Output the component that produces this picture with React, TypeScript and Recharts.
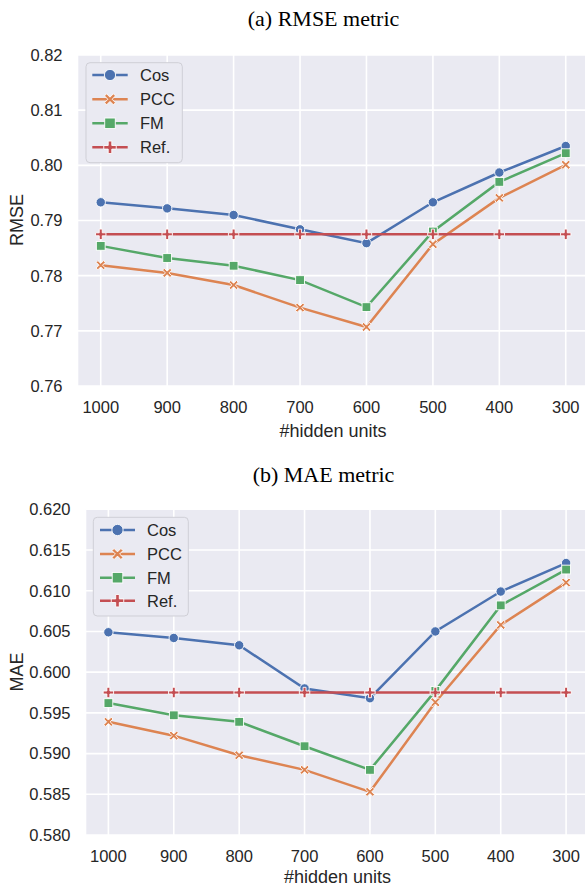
import React from 'react';
import { LineChart, Line, XAxis, YAxis, CartesianGrid } from 'recharts';

// ---- data ----
const categories = ['1000', '900', '800', '700', '600', '500', '400', '300'];
const seriesNames = ['Cos', 'PCC', 'FM', 'Ref.'];

const rmseCos = [0.7933, 0.7922, 0.7910, 0.7884, 0.7859, 0.7933, 0.7987, 0.8035];
const rmsePCC = [0.7819, 0.7805, 0.7783, 0.7742, 0.7707, 0.7857, 0.7941, 0.8001];
const rmseFM = [0.7854, 0.7832, 0.7818, 0.7792, 0.7743, 0.7880, 0.7970, 0.8022];
const rmseRef = [0.7875, 0.7875, 0.7875, 0.7875, 0.7875, 0.7875, 0.7875, 0.7875];
const rmseTicks = [0.76, 0.77, 0.78, 0.79, 0.80, 0.81, 0.82];

const maeCos = [0.6049, 0.6042, 0.6033, 0.5980, 0.5968, 0.6050, 0.6099, 0.6134];
const maePCC = [0.5939, 0.5922, 0.5898, 0.5880, 0.5853, 0.5963, 0.6058, 0.6110];
const maeFM = [0.5962, 0.5947, 0.5939, 0.5909, 0.5880, 0.5977, 0.6082, 0.6126];
const maeRef = [0.5975, 0.5975, 0.5975, 0.5975, 0.5975, 0.5975, 0.5975, 0.5975];
const maeTicks = [0.580, 0.585, 0.590, 0.595, 0.600, 0.605, 0.610, 0.615, 0.620];

// ---- styles ----
const keys = ['cos', 'pcc', 'fm', 'ref'];
const colors = ['#4C72B0', '#DD8452', '#55A868', '#C44E52'];
const markers = ['circle', 'x', 'square', 'plus'];
const BG = '#EAEAF2';
const TXT = '#262626';
const SANS = '"Liberation Sans", Arial, sans-serif';
const SERIF = '"Liberation Serif", "Times New Roman", serif';

function buildRows(a: number[], b: number[], c: number[], d: number[]) {
  return categories.map((cat, i) => ({ x: i, cat, cos: a[i], pcc: b[i], fm: c[i], ref: d[i] }));
}
const rmseRows = buildRows(rmseCos, rmsePCC, rmseFM, rmseRef);
const maeRows = buildRows(maeCos, maePCC, maeFM, maeRef);

function plusPoints(cx: number, cy: number, e: number, a: number, rot: number) {
  const pts = [
    [-a, -e], [a, -e], [a, -a], [e, -a], [e, a], [a, a],
    [a, e], [-a, e], [-a, a], [-e, a], [-e, -a], [-a, -a],
  ];
  const c = Math.cos(rot), s = Math.sin(rot);
  return pts.map(([x, y]) => `${cx + x * c - y * s},${cy + x * s + y * c}`).join(' ');
}

function Marker({ kind, cx, cy, color, scale = 1 }: any) {
  if (cx == null || cy == null) return null;
  const sw = 0.9;
  if (kind === 'circle') {
    return <circle cx={cx} cy={cy} r={4.7 * scale} fill={color} stroke="#fff" strokeWidth={sw} />;
  }
  if (kind === 'square') {
    const h = 4.4 * scale;
    return <rect x={cx - h} y={cy - h} width={2 * h} height={2 * h} fill={color} stroke="#fff" strokeWidth={sw} />;
  }
  if (kind === 'x') {
    const a = 1.25 * scale;
    const e = 4.6 * Math.SQRT2 * scale - a;
    return <polygon points={plusPoints(cx, cy, e, a, Math.PI / 4)} fill={color} stroke="#fff" strokeWidth={sw} />;
  }
  const a = 1.5 * scale;
  const e = 5.2 * scale;
  return <polygon points={plusPoints(cx, cy, e, a, 0)} fill={color} stroke="#fff" strokeWidth={sw} />;
}

const CHART_W = 590;

function Panel({ rows, ticks, digits, height, top, yWidth }: any) {
  return (
    <LineChart
      width={CHART_W}
      height={height}
      data={rows}
      margin={{ top, right: 1, bottom: 24, left: 0 }}
    >
      <CartesianGrid fill={BG} stroke="#ffffff" strokeWidth={1.6} fillOpacity={1} />
      <XAxis
        dataKey="x"
        type="number"
        domain={[-0.35, 7.35]}
        ticks={categories.map((_, i) => i)}
        tickFormatter={(v: number) => categories[v]}
        interval={0}
        axisLine={false}
        tickLine={false}
        tickSize={0}
        tickMargin={15}
        height={30}
        allowDataOverflow
        tick={{ fill: TXT, fontSize: 16.5, fontFamily: SANS }}
      />
      <YAxis
        type="number"
        domain={[ticks[0], ticks[ticks.length - 1]]}
        ticks={ticks}
        tickFormatter={(v: number) => v.toFixed(digits)}
        interval={0}
        axisLine={false}
        tickLine={false}
        tickSize={0}
        tickMargin={15}
        width={yWidth}
        allowDataOverflow
        tick={{ fill: TXT, fontSize: 16.5, fontFamily: SANS }}
      />
      {keys.map((k, si) => (
        <Line
          key={k}
          dataKey={k}
          type="linear"
          stroke={colors[si]}
          strokeWidth={2.5}
          isAnimationActive={false}
          activeDot={false}
          dot={(p: any) => (
            <Marker key={`${k}-${p.index}`} kind={markers[si]} cx={p.cx} cy={p.cy} color={colors[si]} />
          )}
        />
      ))}
    </LineChart>
  );
}

function LegendBox({ x, y, w, h, rowY, lineX0, lineX1, textX }: any) {
  return (
    <g>
      <rect x={x} y={y} width={w} height={h} rx={4} fill={BG} stroke="#CFCFD6" strokeWidth={1} />
      {seriesNames.map((n, i) => {
        const ry = y + rowY[i];
        return (
          <g key={n}>
            <line x1={x + lineX0} x2={x + lineX1} y1={ry} y2={ry} stroke={colors[i]} strokeWidth={2.5} />
            <Marker kind={markers[i]} cx={x + (lineX0 + lineX1) / 2} cy={ry} color={colors[i]} scale={1.2} />
            <text x={x + textX} y={ry + 6} fontSize={16.5} fontFamily={SANS} fill={TXT}>{n}</text>
          </g>
        );
      })}
    </g>
  );
}

export default function App() {
  return (
    <div style={{ position: 'absolute', left: 0, top: 0, width: 585, height: 889, overflow: 'hidden', background: '#fff' }}>
      <div style={{ position: 'absolute', left: 0, top: 0 }}>
        <Panel rows={rmseRows} ticks={rmseTicks} digits={2} height={440} top={55} yWidth={77.5} />
      </div>
      <div style={{ position: 'absolute', left: 0, top: 440 }}>
        <Panel rows={maeRows} ticks={maeTicks} digits={3} height={449} top={69.3} yWidth={85.5} />
      </div>
      <svg width={585} height={889} style={{ position: 'absolute', left: 0, top: 0, pointerEvents: 'none' }}>
        <text x={323.5} y={26} textAnchor="middle" fontSize={22} fontFamily={SERIF} fill="#000">(a) RMSE metric</text>
        <text x={323.5} y={482} textAnchor="middle" fontSize={22} fontFamily={SERIF} fill="#000">(b) MAE metric</text>
        <text x={333} y={436.5} textAnchor="middle" fontSize={18} fontFamily={SANS} fill={TXT}>#hidden units</text>
        <text x={337.5} y={882.5} textAnchor="middle" fontSize={18} fontFamily={SANS} fill={TXT}>#hidden units</text>
        <text transform="translate(22.5,220) rotate(-90)" textAnchor="middle" fontSize={18} fontFamily={SANS} fill={TXT}>RMSE</text>
        <text transform="translate(22.5,672) rotate(-90)" textAnchor="middle" fontSize={18} fontFamily={SANS} fill={TXT}>MAE</text>
        <LegendBox x={86} y={62.7} w={96.3} h={100} rowY={[12.3, 36.6, 60.6, 84.6]} lineX0={6.3} lineX1={41.7} textX={54} />
        <LegendBox x={93.3} y={517.3} w={95} h={98.7} rowY={[12.7, 36.7, 60.4, 83.4]} lineX0={6.7} lineX1={41.7} textX={53.7} />
      </svg>
    </div>
  );
}
